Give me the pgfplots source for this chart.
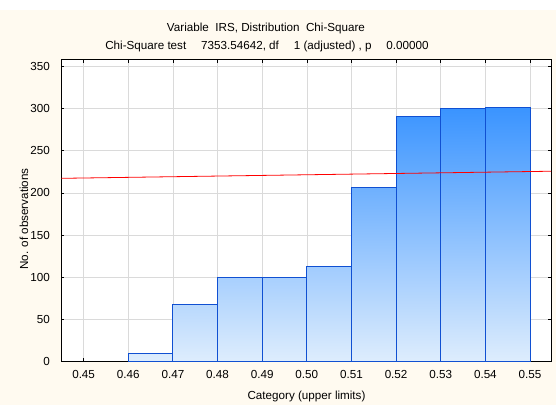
\documentclass[border=0pt]{standalone}
\usepackage{fontspec}
\setmainfont{Liberation Sans}
\usepackage{pgfplots}
\pgfplotsset{compat=1.18}
\definecolor{cream}{RGB}{255,250,240}
\definecolor{barlight}{RGB}{222,237,253}
\definecolor{bardark}{RGB}{42,139,255}
\definecolor{baredge}{RGB}{16,80,210}
\definecolor{gridgray}{RGB}{218,218,218}
\newcommand{\histbar}[4]{\addplot[draw=baredge, line width=0.9pt, top color=bardark!#4!barlight, bottom color=barlight] coordinates {(#1,0) (#1,#3) (#2,#3) (#2,0)} -- cycle;}
\begin{document}
\begin{tikzpicture}[font=\fontsize{11.7}{13}\selectfont]
\fill[white] (0,0) rectangle (556bp,405bp);
\fill[cream] (0,0) rectangle (556bp,395bp);
\node at (266bp,377bp) {Variable\ \ IRS, Distribution\ \ Chi-Square};
\node at (267bp,358.5bp) {Chi-Square test \quad 7353.54642, df \quad 1 (adjusted) , p \quad 0.00000};
\node[rotate=90] at (24bp,186bp) {No. of observations};
\node at (306.5bp,8.5bp) {Category (upper limits)};
\begin{axis}[
  at={(61.3bp,43.5bp)}, anchor=south west,
  scale only axis, width=489.7bp, height=301.8bp,
  xmin=0.445, xmax=0.5547, ymin=0, ymax=358,
  xtick={0.45,0.46,0.47,0.48,0.49,0.50,0.51,0.52,0.53,0.54,0.55},
  xticklabels={0.45,0.46,0.47,0.48,0.49,0.50,0.51,0.52,0.53,0.54,0.55},
  ytick={0,50,100,150,200,250,300,350},
  grid=major, major grid style={gridgray, line width=0.6pt},
  axis line style={black, line width=0.8pt},
  tick style={black, line width=0.6pt}, major tick length=3bp,
  axis background/.style={fill=white},
  /pgf/number format/assume math mode=true,
  xticklabel style={yshift=-5bp},
  yticklabel style={xshift=-8bp},
  clip=true,
]
\histbar{0.46}{0.47}{10}{3}
\histbar{0.47}{0.48}{68}{21}
\histbar{0.48}{0.49}{100}{30}
\histbar{0.49}{0.50}{100}{30}
\histbar{0.50}{0.51}{113}{34}
\histbar{0.51}{0.52}{206}{62}
\histbar{0.52}{0.53}{291}{88}
\histbar{0.53}{0.54}{300}{91}
\histbar{0.54}{0.55}{301}{91}
\addplot[red, line width=0.8pt] coordinates {(0.44,216.9) (0.56,226.1)};
\end{axis}
\end{tikzpicture}
\end{document}
